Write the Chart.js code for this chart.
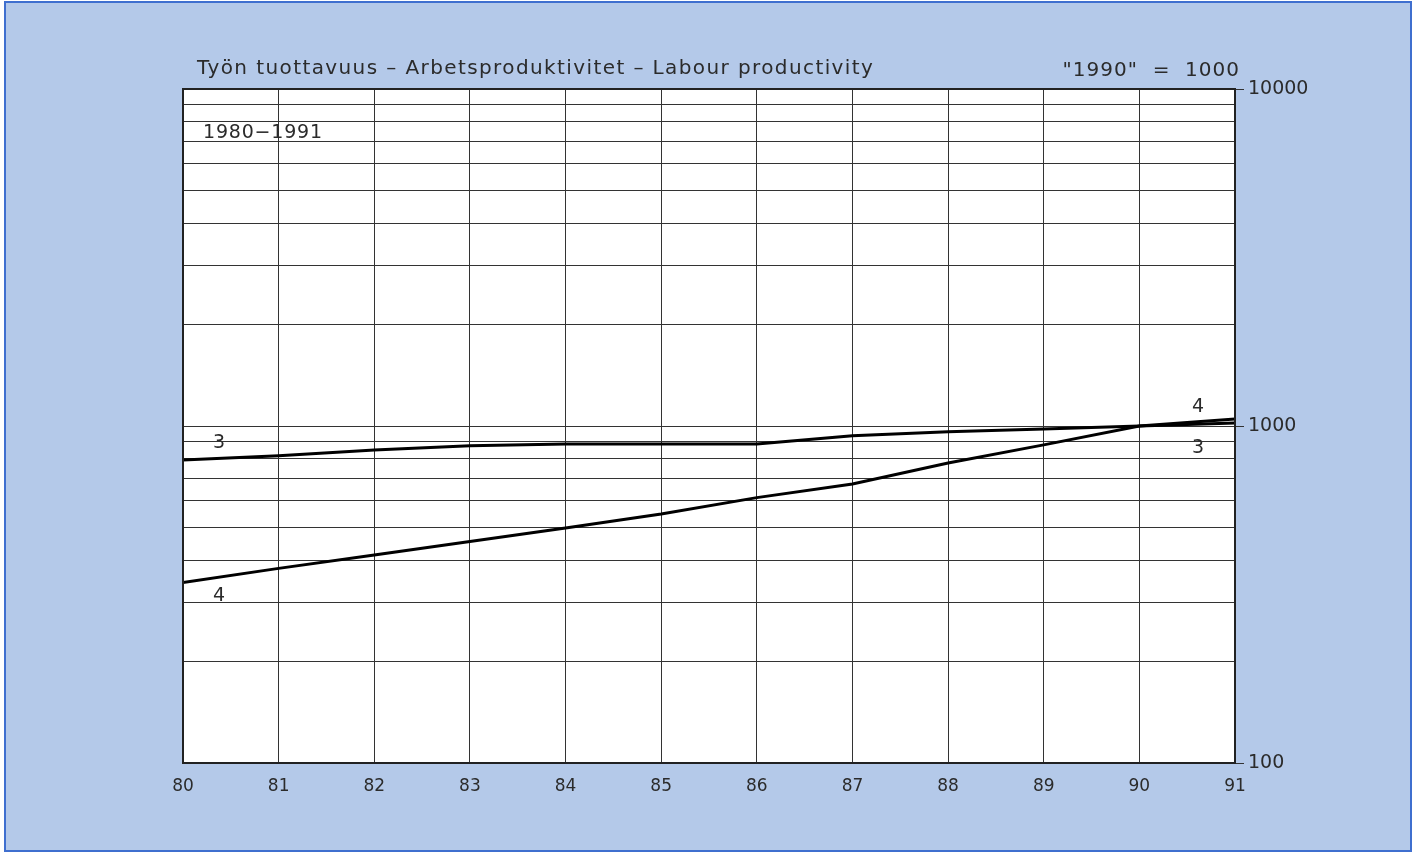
<!DOCTYPE html>
<html>
<head>
<meta charset="utf-8">
<script src="https://cdn.jsdelivr.net/npm/chart.js@4.4.1/dist/chart.umd.min.js"></script>
<style>
  html, body { margin: 0; padding: 0; background: #ffffff; }
  #wrap { width: 1423px; height: 853px; }
</style>
</head>
<body>
<div id="wrap"><canvas id="myChart" width="1423" height="853"></canvas></div>
<script>
// years on the x axis (two-digit, 1980-1991)
const years = [80, 81, 82, 83, 84, 85, 86, 87, 88, 89, 90, 91];
const series3 = [793, 816, 849, 874, 884, 884, 884, 936, 962, 980, 1000, 1021];
const series4 = [343, 378, 414, 454, 498, 548, 613, 673, 777, 879, 1000, 1049];
// gridlines of the log axis and the ones that get a label
const yGrid = [100, 200, 300, 400, 500, 600, 700, 800, 900,
               1000, 2000, 3000, 4000, 5000, 6000, 7000, 8000, 9000, 10000];
const yLabels = [100, 1000, 10000];

const titleText = 'Työn tuottavuus \u2013 Arbetsproduktivitet \u2013 Labour productivity';
const baseText = '"1990"  =  1000';
const periodText = '1980\u22121991';

const FONT = '"DejaVu Sans", "Noto Sans", sans-serif';
const INK = '#2b2b2b';

const pageBackground = {
    id: 'pageBackground',
    beforeDraw(chart) {
        const ctx = chart.ctx;
        ctx.save();
        ctx.fillStyle = '#ffffff';
        ctx.fillRect(0, 0, chart.width, chart.height);
        ctx.fillStyle = '#b4c9e9';
        ctx.fillRect(5, 2, 1406, 849);
        ctx.strokeStyle = '#3f6fcf';
        ctx.lineWidth = 2;
        ctx.strokeRect(5, 2, 1406, 849);
        // white plot field
        const a = chart.chartArea;
        ctx.fillStyle = '#ffffff';
        ctx.fillRect(a.left, a.top, a.right - a.left, a.bottom - a.top);
        ctx.restore();
    }
};

const annotations = {
    id: 'annotations',
    afterDraw(chart) {
        const ctx = chart.ctx;
        const a = chart.chartArea;
        ctx.save();
        // frame
        ctx.strokeStyle = '#222';
        ctx.lineWidth = 2;
        ctx.strokeRect(a.left, a.top, a.right - a.left, a.bottom - a.top);

        ctx.fillStyle = INK;
        ctx.textBaseline = 'alphabetic';
        ctx.font = '20px ' + FONT;
        ctx.letterSpacing = '1.4px';
        ctx.textAlign = 'left';
        ctx.fillText(titleText, 197, 74);
        ctx.letterSpacing = '1px';
        ctx.textAlign = 'right';
        ctx.fillText(baseText, 1240, 76);

        ctx.textAlign = 'left';
        ctx.font = '19px ' + FONT;
        ctx.letterSpacing = '0.8px';
        ctx.fillText(periodText, 203, 138);

        // series numbers next to the lines
        ctx.letterSpacing = '0px';
        ctx.font = '19px ' + FONT;
        ctx.textAlign = 'center';
        ctx.fillText('3', 219, 448);
        ctx.fillText('4', 219, 601);
        ctx.fillText('4', 1198, 412);
        ctx.fillText('3', 1198, 453);
        ctx.restore();
    }
};

const config = {
    type: 'line',
    data: {
        labels: years,
        datasets: [
            {
                label: '3',
                data: years.map((y, i) => ({ x: y, y: series3[i] })),
                borderColor: '#000',
                borderWidth: 3,
                pointRadius: 0,
                tension: 0
            },
            {
                label: '4',
                data: years.map((y, i) => ({ x: y, y: series4[i] })),
                borderColor: '#000',
                borderWidth: 3,
                pointRadius: 0,
                tension: 0
            }
        ]
    },
    options: {
        responsive: false,
        animation: false,
        layout: { padding: { left: 183, top: 89, right: 0, bottom: 0 } },
        plugins: {
            legend: { display: false },
            tooltip: { enabled: false }
        },
        scales: {
            x: {
                type: 'linear',
                min: 80,
                max: 91,
                afterFit: scale => { scale.height = 90; },
                afterBuildTicks: scale => { scale.ticks = years.map(v => ({ value: v })); },
                grid: { color: '#333', lineWidth: 1, drawTicks: false },
                border: { display: false },
                ticks: {
                    color: INK,
                    font: { family: FONT, size: 17 },
                    padding: 13,
                    maxRotation: 0,
                    autoSkip: false,
                    callback: v => String(v)
                }
            },
            y: {
                type: 'logarithmic',
                position: 'right',
                min: 100,
                max: 10000,
                afterFit: scale => { scale.width = 1423 - 1235; },
                afterBuildTicks: scale => { scale.ticks = yGrid.map(v => ({ value: v })); },
                grid: {
                    color: '#333',
                    lineWidth: 1,
                    tickLength: 9,
                    tickColor: c => (yLabels.includes(c.tick && c.tick.value) ? '#333' : 'rgba(0,0,0,0)')
                },
                border: { display: false },
                ticks: {
                    color: INK,
                    font: { family: FONT, size: 19 },
                    padding: 4,
                    autoSkip: false,
                    callback: v => (yLabels.includes(v) ? String(v) : '')
                }
            }
        }
    },
    plugins: [pageBackground, annotations]
};

var myChart = new Chart(document.getElementById('myChart'), config);
</script>
</body>
</html>
